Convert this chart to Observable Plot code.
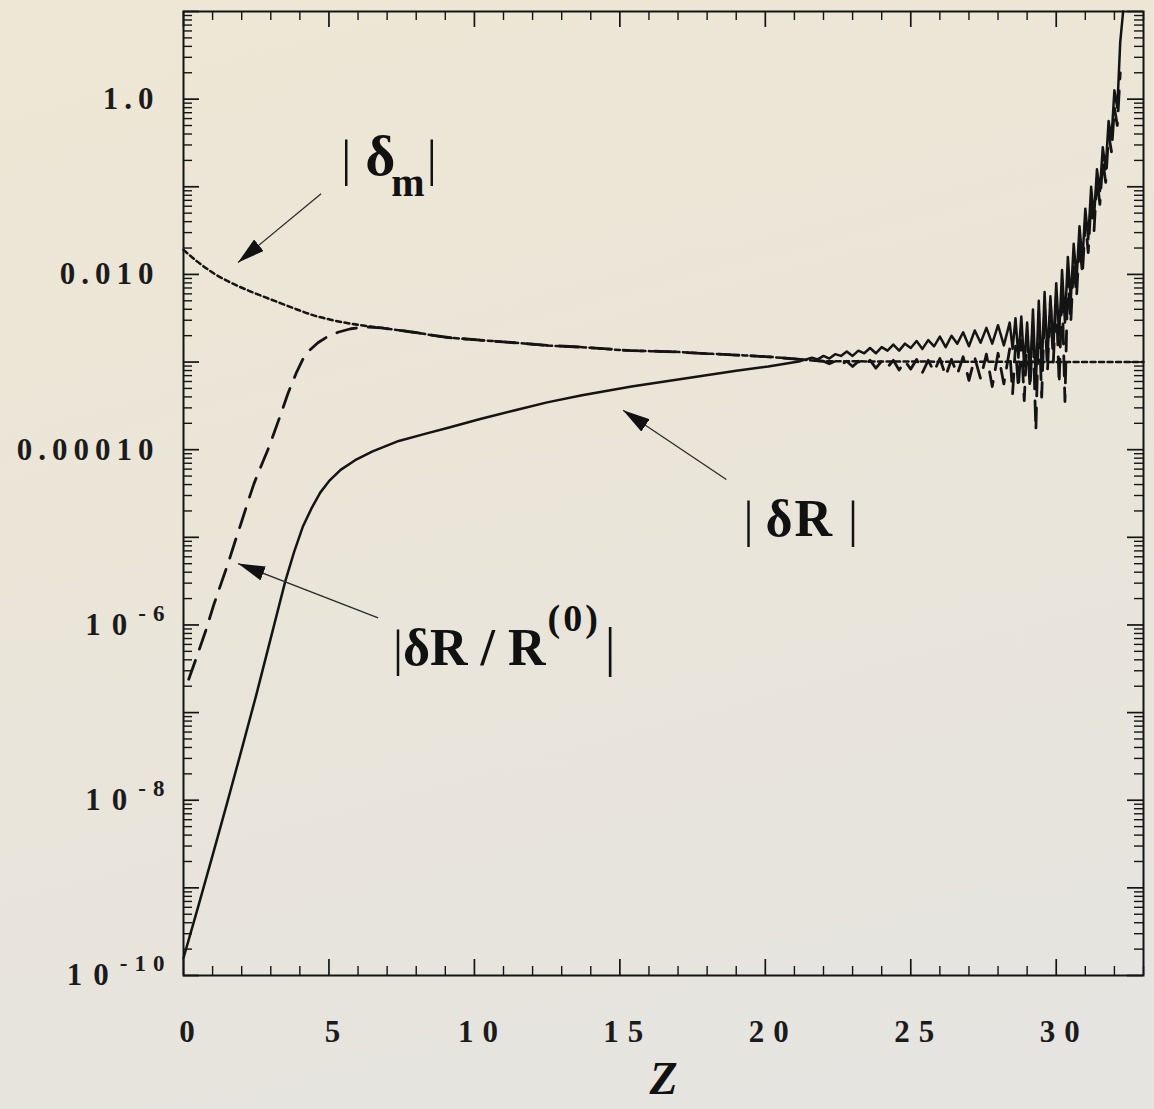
<!DOCTYPE html>
<html>
<head>
<meta charset="utf-8">
<script src="https://cdn.jsdelivr.net/npm/d3@7"></script>
<script src="https://cdn.jsdelivr.net/npm/@observablehq/plot@0.6"></script>
<style>
  html, body { margin: 0; padding: 0; }
  body {
    width: 1154px; height: 1109px; overflow: hidden;
    background: linear-gradient(165deg, #eee7d5 0%, #ebe5d8 40%, #e7e4dd 75%, #e5e4e1 100%);
  }
  #chart svg { display: block; overflow: visible; }
  #chart svg [aria-label="y-axis tick label"] text {
    font-family: "Liberation Serif", "Times New Roman", serif;
    font-weight: bold; font-size: 31px; letter-spacing: 6px; fill: #1b1b1b;
  }
  #chart svg [aria-label="x-axis tick label"] text {
    font-family: "Liberation Serif", "Times New Roman", serif;
    font-weight: bold; font-size: 31px; letter-spacing: 9px; fill: #1b1b1b;
  }
</style>
</head>
<body>
<div id="chart"></div>
<script>
// ---------------- data (y stored as log10 of the value) ----------------
// |δm| : short-dashed curve  [Z, log10|δm|]
const deltaM = [
  [0, -1.72], [0.5, -1.86], [1.05, -1.99], [1.6, -2.09], [2.2, -2.18], [2.8, -2.26],
  [3.35, -2.33], [3.9, -2.40], [4.5, -2.47], [5.1, -2.52], [5.7, -2.56], [6.8, -2.61],
  [7.9, -2.66], [9.1, -2.72], [10.2, -2.75], [11.4, -2.78], [12.5, -2.81], [13.7, -2.83],
  [15.4, -2.87], [16.6, -2.88], [17.8, -2.90], [19.0, -2.92], [20.1, -2.94], [21.2, -2.97],
  [22.0, -2.99], [33.0, -3.00]
];

// |δR / R(0)| : long-dashed curve  [Z, log10]
const deltaRRel = [
  [0.18, -6.62], [0.5, -6.32], [0.77, -6.06], [1.05, -5.76], [1.3, -5.52], [1.53, -5.30],
  [1.75, -5.07], [1.98, -4.84], [2.2, -4.61], [2.42, -4.39], [2.65, -4.20], [2.9, -4.00],
  [3.1, -3.82], [3.35, -3.59], [3.6, -3.35], [3.87, -3.13], [4.1, -2.97], [4.35, -2.86],
  [4.62, -2.78], [4.95, -2.71], [5.31, -2.66], [5.75, -2.62], [6.21, -2.60], [6.8, -2.61],
  [7.9, -2.66], [9.1, -2.72], [10.2, -2.75], [11.4, -2.78], [12.5, -2.81], [13.7, -2.83],
  [15.4, -2.87], [16.6, -2.88], [17.8, -2.90], [19.0, -2.92], [20.1, -2.94], [21.2, -2.97],
  [22.0, -2.99], [22.2, -3.02], [22.4, -2.99], [22.6, -3.03], [22.8, -2.99], [23.0, -3.05],
  [23.2, -2.99], [23.4, -3.04], [23.6, -2.98], [23.8, -3.07], [24.0, -2.99], [24.2, -3.06],
  [24.4, -2.98], [24.6, -3.09], [24.8, -2.99], [25.0, -3.08], [25.2, -2.97], [25.4, -3.12],
  [25.6, -2.98], [25.8, -3.11], [26.0, -2.96], [26.2, -3.16], [26.4, -2.97], [26.6, -3.14],
  [26.8, -2.94], [27.0, -3.21], [27.2, -2.95], [27.4, -3.19], [27.6, -2.91], [27.8, -3.28],
  [28.0, -2.90], [28.2, -3.25], [28.4, -2.85], [28.5, -3.36], [28.6, -2.82], [28.7, -3.30],
  [28.8, -2.75], [28.9, -3.44], [29.0, -2.72], [29.1, -3.30], [29.2, -2.60], [29.3, -3.78],
  [29.4, -2.45], [29.5, -3.40], [29.6, -2.38], [29.7, -3.10], [29.8, -2.30], [29.9, -3.00],
  [30.0, -2.25], [30.1, -3.25], [30.2, -2.15], [30.3, -3.45], [30.4, -2.00], [30.5, -2.55],
  [30.6, -1.85], [30.7, -2.25], [30.8, -1.60], [30.9, -2.00], [31.0, -1.40], [31.1, -1.75],
  [31.2, -1.15], [31.3, -1.50], [31.4, -0.90], [31.5, -1.20], [31.6, -0.70], [31.7, -0.95],
  [31.8, -0.40], [31.9, -0.60], [32.0, -0.10], [32.1, -0.30], [32.2, 0.30]
];

// |δR| : solid curve  [Z, log10|δR|]
const deltaR = [
  [0, -9.80], [0.5, -9.22], [1.0, -8.63], [1.5, -8.03], [2.0, -7.42], [2.5, -6.80],
  [3.0, -6.15], [3.5, -5.50], [3.8, -5.17], [4.1, -4.88], [4.4, -4.67], [4.7, -4.49],
  [5.0, -4.36], [5.4, -4.23], [5.9, -4.12], [6.5, -4.02], [7.4, -3.90], [8.3, -3.82],
  [9.1, -3.75], [10.2, -3.65], [11.4, -3.55], [12.5, -3.46], [13.7, -3.38], [15.4, -3.28],
  [16.6, -3.22], [17.8, -3.16], [19.0, -3.10], [20.1, -3.05], [21.2, -2.99],
  [21.4, -2.97], [21.6, -2.95], [21.8, -2.97], [22.0, -2.93], [22.2, -2.96], [22.4, -2.91],
  [22.6, -2.93], [22.8, -2.88], [23.0, -2.93], [23.2, -2.87], [23.4, -2.90], [23.6, -2.84],
  [23.8, -2.90], [24.0, -2.83], [24.2, -2.87], [24.4, -2.80], [24.6, -2.87], [24.8, -2.79],
  [25.0, -2.84], [25.2, -2.76], [25.4, -2.85], [25.6, -2.75], [25.8, -2.82], [26.0, -2.71],
  [26.2, -2.83], [26.4, -2.70], [26.6, -2.79], [26.8, -2.66], [27.0, -2.82], [27.2, -2.64],
  [27.4, -2.78], [27.6, -2.61], [27.8, -2.79], [28.0, -2.58], [28.2, -2.81], [28.4, -2.55],
  [28.5, -2.85], [28.6, -2.50], [28.7, -2.95], [28.8, -2.48], [28.9, -3.05], [29.0, -2.55],
  [29.1, -3.15], [29.2, -2.40], [29.3, -3.25], [29.4, -2.30], [29.5, -3.10], [29.6, -2.20],
  [29.7, -2.95], [29.8, -2.25], [29.9, -2.85], [30.0, -2.10], [30.1, -2.70], [30.2, -1.95],
  [30.3, -2.55], [30.4, -1.80], [30.5, -2.30], [30.6, -1.65], [30.7, -2.05], [30.8, -1.45],
  [30.9, -1.85], [31.0, -1.25], [31.1, -1.60], [31.2, -1.00], [31.3, -1.35], [31.4, -0.80],
  [31.5, -1.05], [31.6, -0.55], [31.7, -0.80], [31.8, -0.25], [31.9, -0.45], [32.0, 0.10],
  [32.1, -0.10], [32.2, 0.65], [32.3, 1.00]
];

// tick labels
const yTickValues = [1, 0.01, 1e-4, 1e-6, 1e-8, 1e-10];
const yTickLabels = ["1.0", "0.010", "0.00010", "10^-6", "10^-8", "10^-10"];
const xTickValues = [0, 5, 10, 15, 20, 25, 30];
const xTickLabels = ["0", "5", "10", "15", "20", "25", "30"];
const xLabel = "Z";

// annotations: text, and arrows (tail -> head) in data units (y as log10)
const labels = [
  {text: "|δm|",      z: 5.42,  ly: -0.87},
  {text: "|δR|",      z: 19.25, ly: -4.98},
  {text: "|δR/R(0)|", z: 7.20,  ly: -6.46}
];
const arrows = [
  {z1: 4.73,  ly1: -1.08, z2: 1.875, ly2: -1.863},
  {z1: 18.66, ly1: -4.34, z2: 15.11, ly2: -3.551},
  {z1: 6.69,  ly1: -5.92, z2: 1.875, ly2: -5.30}
];

// ---------------- layout ----------------
const W = 1154, H = 1109;
const mL = 183, mR = 11, mT = 11, mB = 134;
const plotW = W - mL - mR, plotH = H - mT - mB;
const majLen = 16, minLen = 9;
const ink = "#141414";

const yDecades = d3.range(-10, 2).map(e => Math.pow(10, e));
const yMinor = d3.scaleLog().domain([1e-10, 10]).ticks(40)
  .filter(v => !yDecades.some(d => Math.abs(v - d) / d < 1e-6));
const xMajor = d3.range(0, 34, 5);
const xMinor = d3.range(0, 34).filter(v => v % 5 !== 0);

const P = v => Math.pow(10, v);
const serif = '"Liberation Serif", "Times New Roman", serif';

const svg = Plot.plot({
  width: W, height: H,
  marginLeft: mL, marginRight: mR, marginTop: mT, marginBottom: mB,
  style: {background: "transparent", overflow: "visible"},
  x: {domain: [0, 33]},
  y: {type: "log", domain: [1e-10, 10]},
  marks: [
    // inward ticks on all four sides
    Plot.tickY(yDecades, {y: d => d, insetRight: plotW - majLen, stroke: ink, strokeWidth: 1.7}),
    Plot.tickY(yMinor,   {y: d => d, insetRight: plotW - minLen, stroke: ink, strokeWidth: 1.4}),
    Plot.tickY(yDecades, {y: d => d, insetLeft: plotW - majLen, stroke: ink, strokeWidth: 1.7}),
    Plot.tickY(yMinor,   {y: d => d, insetLeft: plotW - minLen, stroke: ink, strokeWidth: 1.4}),
    Plot.tickX(xMajor, {x: d => d, insetTop: plotH - majLen, stroke: ink, strokeWidth: 1.7}),
    Plot.tickX(xMinor, {x: d => d, insetTop: plotH - minLen, stroke: ink, strokeWidth: 1.4}),
    Plot.tickX(xMajor, {x: d => d, insetBottom: plotH - majLen, stroke: ink, strokeWidth: 1.7}),
    Plot.tickX(xMinor, {x: d => d, insetBottom: plotH - minLen, stroke: ink, strokeWidth: 1.4}),
    Plot.axisY(yTickValues, {
      tickSize: 0, tickPadding: 24, label: null,
      tickFormat: d => yTickLabels[yTickValues.indexOf(d)]
    }),
    Plot.axisX(xTickValues, {
      tickSize: 0, tickPadding: 44, label: null, dx: 8,
      tickFormat: d => xTickLabels[xTickValues.indexOf(d)]
    }),
    // curves
    Plot.line(deltaM, {x: d => d[0], y: d => P(d[1]), stroke: ink, strokeWidth: 2.5,
      strokeDasharray: "5,3.5", curve: "monotone-x"}),
    Plot.line(deltaRRel, {x: d => d[0], y: d => P(d[1]), stroke: ink, strokeWidth: 2.8,
      strokeDasharray: "20,12", curve: "linear"}),
    Plot.line(deltaR, {x: d => d[0], y: d => P(d[1]), stroke: ink, strokeWidth: 2.5,
      curve: "linear"}),
    // annotation arrows
    Plot.link(arrows, {x1: "z1", y1: d => P(d.ly1), x2: "z2", y2: d => P(d.ly2),
      stroke: "#2a2a2a", strokeWidth: 1.3}),
    // annotation labels
    Plot.text(labels, {x: "z", y: d => P(d.ly), text: "text", textAnchor: "start",
      lineAnchor: "bottom", fontSize: 50, fontFamily: serif, fontWeight: "bold",
      fill: "#111"}),
    // axis title
    Plot.text([xLabel], {frameAnchor: "bottom", lineAnchor: "bottom", dy: 118,
      fontSize: 46, fontWeight: "bold", fontStyle: "italic", fontFamily: serif, fill: "#111"}),
    Plot.frame({stroke: ink, strokeWidth: 2})
  ]
});

// ---------------- post-processing: rich text & arrowheads ----------------
const NS = "http://www.w3.org/2000/svg";
function ts(parent, txt, attrs = {}) {
  const t = document.createElementNS(NS, "tspan");
  t.textContent = txt;
  for (const [k, v] of Object.entries(attrs)) t.setAttribute(k, v);
  parent.appendChild(t);
  return t;
}

svg.querySelectorAll("text").forEach(t => {
  const s = t.textContent;
  const m = s.match(/^10\^(-\d+)$/);
  if (m) {
    // y tick labels with superscript exponents
    t.textContent = "";
    ts(t, "10", {"letter-spacing": "11"});
    ts(t, m[1], {dy: "-14", "font-size": "23", "letter-spacing": "7"});
    const tr = t.getAttribute("transform") || "";
    t.setAttribute("transform", tr + " translate(12,0)");
  } else if (s === "|δm|") {
    t.textContent = "";
    ts(t, "|", {"font-weight": "normal"});
    ts(t, "δ", {dx: "14", "font-size": "58"});
    ts(t, "m", {dx: "-4", dy: "21", "font-size": "40"});
    ts(t, "|", {dx: "2", dy: "-21", "font-weight": "normal"});
  } else if (s === "|δR|") {
    t.textContent = "";
    ts(t, "|", {"font-weight": "normal"});
    ts(t, "δR", {dx: "12", "font-size": "52", "letter-spacing": "2"});
    ts(t, "|", {dx: "14", "font-weight": "normal"});
  } else if (s === "|δR/R(0)|") {
    t.textContent = "";
    ts(t, "|", {"font-weight": "normal"});
    ts(t, "δR / R", {"font-size": "52"});
    ts(t, "(0)", {dx: "2", dy: "-34", "font-size": "38", "letter-spacing": "3"});
    ts(t, "|", {dx: "4", dy: "34", "font-weight": "normal", "font-size": "54"});
  }
});

// filled triangular arrowheads
const defs = document.createElementNS(NS, "defs");
const marker = document.createElementNS(NS, "marker");
marker.setAttribute("id", "tri-head");
marker.setAttribute("viewBox", "-27 -7.5 27 15");
marker.setAttribute("refX", "0");
marker.setAttribute("refY", "0");
marker.setAttribute("markerWidth", "27");
marker.setAttribute("markerHeight", "15");
marker.setAttribute("markerUnits", "userSpaceOnUse");
marker.setAttribute("orient", "auto");
const hp = document.createElementNS(NS, "path");
hp.setAttribute("d", "M-27,-7.5L0,0L-27,7.5Z");
hp.setAttribute("fill", "#111");
marker.appendChild(hp);
defs.appendChild(marker);
svg.insertBefore(defs, svg.firstChild);
svg.querySelectorAll('g[aria-label="link"] path, g[aria-label="link"] line').forEach(p => {
  p.setAttribute("marker-end", "url(#tri-head)");
});

document.getElementById("chart").appendChild(svg);
</script>
</body>
</html>
